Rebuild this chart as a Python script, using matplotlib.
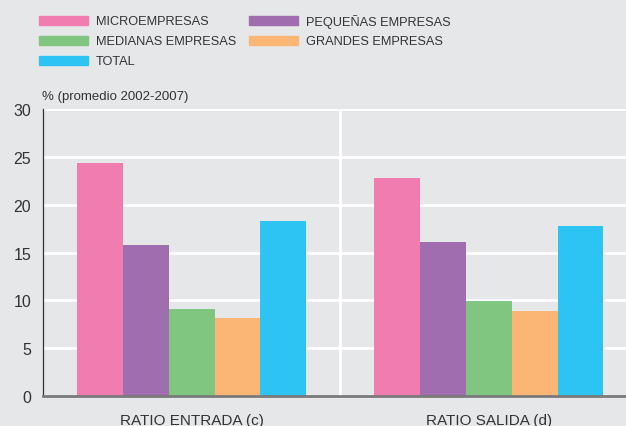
import numpy as np
import matplotlib
matplotlib.use('Agg')
import matplotlib.pyplot as plt
import matplotlib.patches as mpatches

plt.rcParams['font.family'] = ['Liberation Sans', 'DejaVu Sans']

categories = ['RATIO ENTRADA (c)', 'RATIO SALIDA (d)']
series = ['MICROEMPRESAS', 'PEQUEÑAS EMPRESAS', 'MEDIANAS EMPRESAS',
          'GRANDES EMPRESAS', 'TOTAL']
values = [
    [24.4, 22.8],   # micro
    [15.8, 16.1],   # pequeñas
    [9.1, 9.9],     # medianas
    [8.2, 8.9],     # grandes
    [18.3, 17.8],   # total
]
colors = ['#F07CB0', '#A06DAF', '#80C680', '#FBB574', '#2DC4F3']
yticks = [0, 5, 10, 15, 20, 25, 30]

bg = '#E6E7E9'
txt = '#333333'

fig = plt.figure(figsize=(6.26, 4.27), dpi=100, facecolor=bg)
W, H = 626, 427
ax = fig.add_axes([43 / W, 1 - 397 / H, 1 - 43 / W, 287 / H])
ax.set_facecolor(bg)

x = np.arange(len(categories))
bw = 0.154
for i, (vals, c) in enumerate(zip(values, colors)):
    ax.bar(x + (i - 2) * bw, vals, width=bw, color=c, linewidth=0, zorder=3)

ax.set_ylim(0, 30)
ax.set_xlim(-0.5, 1.461)
ax.set_yticks(yticks)
ax.set_yticklabels([str(v) for v in yticks], fontsize=11.5, color=txt)
ax.set_xticks(x)
ax.set_xticklabels(categories, fontsize=11, color=txt)
ax.tick_params(length=0)
ax.tick_params(axis='y', pad=8.5)
ax.tick_params(axis='x', pad=12)

for v in yticks[1:]:
    ax.axhline(v, color='white', lw=2, zorder=1)
ax.axvline(0.5, color='white', lw=2, zorder=1)

for s in ['top', 'right']:
    ax.spines[s].set_visible(False)
ax.spines['left'].set_color('#333333')
ax.spines['left'].set_linewidth(0.9)
ax.spines['bottom'].set_color('#7a7a7a')
ax.spines['bottom'].set_linewidth(2)
ax.spines['bottom'].set_zorder(4)

fig.text(42 / W, 1 - 97 / H, '% (promedio 2002-2007)', fontsize=9.5,
         color=txt, va='center')

# legend, two columns
pos = [(39, 22), (249, 22), (39, 42), (249, 42), (39, 62)]
for name, c, (px, py) in zip(series, colors, pos):
    fig.patches.append(mpatches.Rectangle((px / W, 1 - (py + 4) / H), 49 / W, 9 / H,
                                          transform=fig.transFigure, color=c))
    fig.text((px + 57) / W, 1 - py / H, name, fontsize=9.2, color=txt, va='center')

plt.savefig('out.png', dpi=100, facecolor=bg)
